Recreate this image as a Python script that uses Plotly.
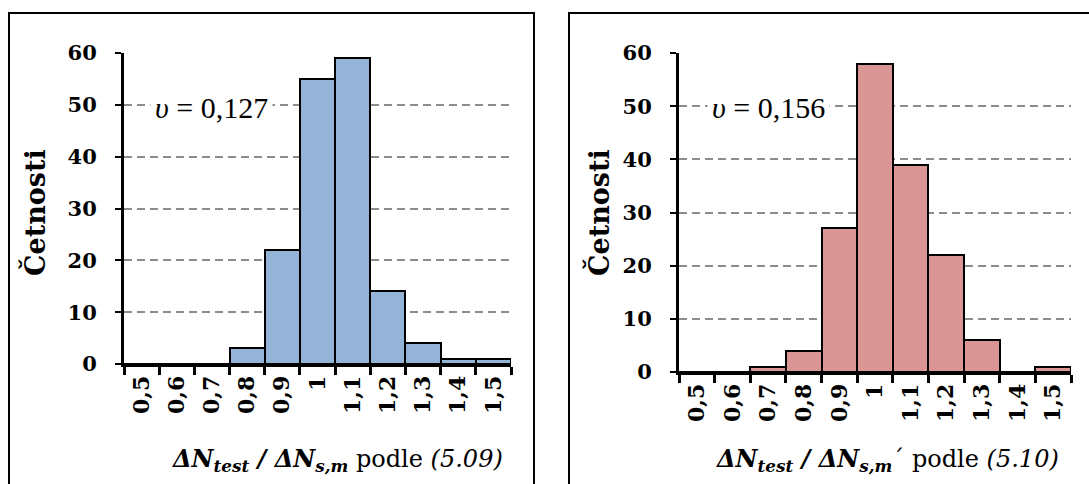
import plotly.graph_objects as go

categories = ["0,5", "0,6", "0,7", "0,8", "0,9", "1", "1,1", "1,2", "1,3", "1,4", "1,5"]
counts_509 = [0, 0, 0, 3, 22, 55, 59, 14, 4, 1, 1]
counts_510 = [0, 0, 1, 4, 27, 58, 39, 22, 6, 0, 1]
v_509 = "0,127"
v_510 = "0,156"
y_title = "Četnosti"

W, H = 1089, 484
FONT = "DejaVu Serif"

def px(x):
    return x / W

def py(y):
    return (H - y) / H

fig = go.Figure()
fig.add_trace(go.Bar(x=categories, y=counts_509, xaxis="x", yaxis="y",
                     marker=dict(color="#95B3D7", line=dict(color="black", width=2)),
                     width=1, showlegend=False))
fig.add_trace(go.Bar(x=categories, y=counts_510, xaxis="x2", yaxis="y2",
                     marker=dict(color="#DA9694", line=dict(color="black", width=2)),
                     width=1, showlegend=False))

xcommon = dict(type="category", showline=True, linecolor="black", linewidth=3,
               ticks="outside", ticklen=8, tickwidth=3, tickcolor="black",
               tickson="boundaries", tickangle=-90, showgrid=False, automargin=False,
               tickfont=dict(family=FONT, size=22, color="black", weight="bold"),
               fixedrange=True)
ycommon = dict(range=[0, 60], dtick=10, showline=True, linecolor="black", linewidth=3,
               ticks="outside", ticklen=6, tickwidth=2, tickcolor="black",
               showgrid=True, gridcolor="#8c8c8c", gridwidth=2, griddash="8px,5px",
               zeroline=False, ticklabelstandoff=14, automargin=False,
               tickfont=dict(family=FONT, size=21, color="black", weight="bold"),
               fixedrange=True)

fig.update_layout(
    width=W, height=H,
    margin=dict(l=0, r=0, t=0, b=0, pad=0, autoexpand=False),
    paper_bgcolor="white", plot_bgcolor="white",
    bargap=0,
    xaxis=dict(domain=[px(124), px(511)], anchor="y", **xcommon),
    yaxis=dict(domain=[py(364), py(53)], anchor="x", **ycommon),
    xaxis2=dict(domain=[px(679), px(1071)], anchor="y2", **xcommon),
    yaxis2=dict(domain=[py(372), py(53)], anchor="x2", **ycommon),
    font=dict(family=FONT, color="black"),
)

fig.add_shape(type="rect", xref="paper", yref="paper",
              x0=px(9), x1=px(534), y0=py(495), y1=py(13),
              line=dict(color="black", width=2), fillcolor="rgba(0,0,0,0)", layer="above")
fig.add_shape(type="rect", xref="paper", yref="paper",
              x0=px(569), x1=px(1100), y0=py(495), y1=py(13),
              line=dict(color="black", width=2), fillcolor="rgba(0,0,0,0)", layer="above")

# y-axis titles
for xc, yc in [(34, 213), (598, 213)]:
    fig.add_annotation(xref="paper", yref="paper", x=px(xc), y=py(yc),
                       text=f"<b>{y_title}</b>", showarrow=False, textangle=-90,
                       font=dict(family=FONT, size=27, color="black"),
                       xanchor="center", yanchor="middle")

for xc, v in [(212, v_509), (768, v_510)]:
    fig.add_annotation(xref="paper", yref="paper", x=px(xc), y=py(107),
                       text=f"<i>υ</i> = {v}", showarrow=False,
                       font=dict(family="Liberation Serif, serif", size=30, color="black"),
                       bgcolor="white", borderpad=4, xanchor="center", yanchor="middle")

titles = [
    (505, 460, "<b><i>ΔN<sub>test</sub> / ΔN<sub>s,m</sub></i></b> podle <i>(5.09)</i>"),
    (1061, 460, "<b><i>ΔN<sub>test</sub> / ΔN<sub>s,m</sub></i></b>´ podle <i>(5.10)</i>"),
]
for xr, yc, t in titles:
    fig.add_annotation(xref="paper", yref="paper", x=px(xr), y=py(yc),
                       text=t, showarrow=False,
                       font=dict(family=FONT, size=24, color="black"),
                       xanchor="right", yanchor="middle")

fig.write_html("out.html")
